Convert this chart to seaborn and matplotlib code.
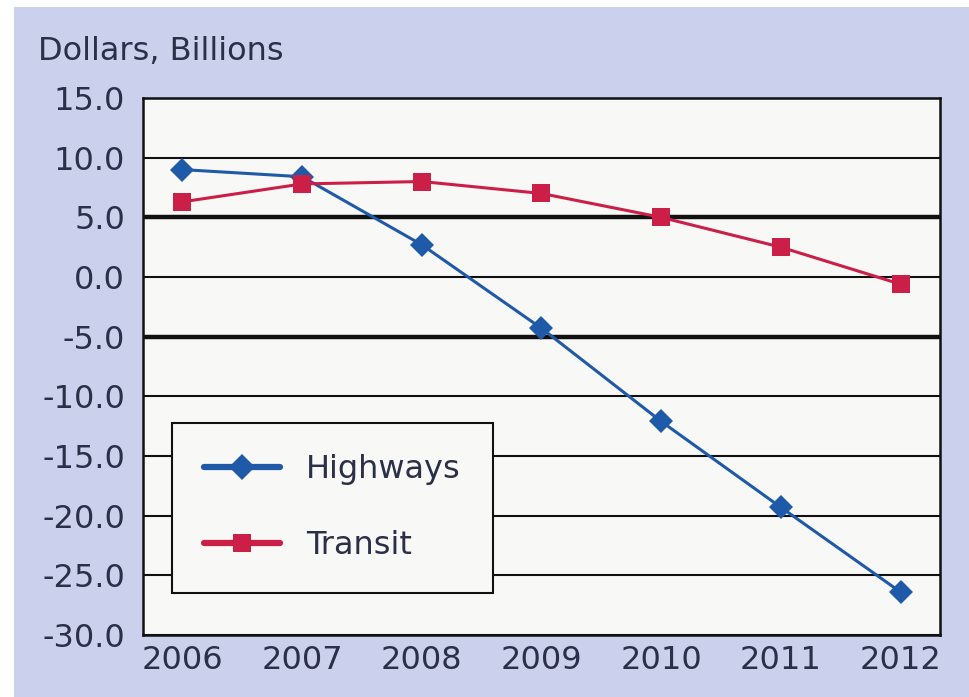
import matplotlib
matplotlib.use("Agg")
import matplotlib.pyplot as plt
import seaborn as sns
import pandas as pd
from matplotlib.patches import Rectangle

years = [2006, 2007, 2008, 2009, 2010, 2011, 2012]
highways = [9.0, 8.4, 2.7, -4.3, -12.1, -19.3, -26.4]
transit = [6.3, 7.8, 8.0, 7.0, 5.0, 2.5, -0.6]
series_names = ["Highways", "Transit"]
y_ticks = [15, 10, 5, 0, -5, -10, -15, -20, -25, -30]
y_label = "Dollars, Billions"

sns.set_theme(style="white")
plt.rcParams["font.family"] = ["DejaVu Sans"]

df = pd.DataFrame({
    "Year": years * 2,
    "Value": highways + transit,
    "Series": [series_names[0]] * len(years) + [series_names[1]] * len(years),
})

text_color = "#2b2f48"
bg = "#cbd0ec"

fig = plt.figure(figsize=(9.7, 6.97), dpi=100)
fig.patch.set_facecolor("white")
fig.patches.append(Rectangle((14 / 970, 0), 1, 1 - 7 / 697, transform=fig.transFigure,
                             facecolor=bg, edgecolor="none", zorder=-10))

ax = fig.add_axes([143 / 970, 62 / 697, 797 / 970, 537 / 697])
ax.set_zorder(5)
ax.set_facecolor("#f8f8f6")

palette = {"Highways": "#1f5aa8", "Transit": "#cc1f48"}
markers = {"Highways": "D", "Transit": "s"}
sns.lineplot(data=df, x="Year", y="Value", hue="Series", style="Series",
             palette=palette, markers=markers, dashes=False, linewidth=2.2,
             markersize=12.5, markeredgewidth=0, ax=ax, zorder=3)

ax.set_xlim(2005.67, 2012.33)
ax.set_ylim(-30, 15)
ax.set_yticks(y_ticks)
ax.set_yticklabels([f"{v:.1f}" for v in y_ticks])
ax.set_xticks(years)
ax.set_xticklabels([str(y) for y in years])
ax.tick_params(axis="both", length=0, labelsize=23, labelcolor=text_color)
ax.tick_params(axis="y", pad=13)
ax.tick_params(axis="x", pad=7)
ax.set_xlabel("")
ax.set_ylabel("")

for v in y_ticks:
    lw = 3.2 if v in (5, -5) else 1.5
    ax.axhline(v, color="#111111", linewidth=lw, zorder=1)

for s in ax.spines.values():
    s.set_color("#111111")
    s.set_linewidth(1.8)

fig.text(38 / 970, 1 - 52 / 697, y_label, fontsize=23, color=text_color, va="center", ha="left")

leg = ax.legend(loc="lower left", bbox_to_anchor=(0.036, 0.078), borderaxespad=0,
                fontsize=23, frameon=True, fancybox=False, handlelength=2.4,
                handletextpad=0.8, labelspacing=1.4, borderpad=1.0, title=None)
leg.get_frame().set_edgecolor("#111111")
leg.get_frame().set_linewidth(1.5)
leg.get_frame().set_facecolor("#f8f8f6")
leg.get_frame().set_alpha(1)
for t in leg.get_texts():
    t.set_color(text_color)
for h in leg.legend_handles:
    h.set_linewidth(4.5)
    h.set_markersize(13)

fig.savefig("out.png", dpi=100)
